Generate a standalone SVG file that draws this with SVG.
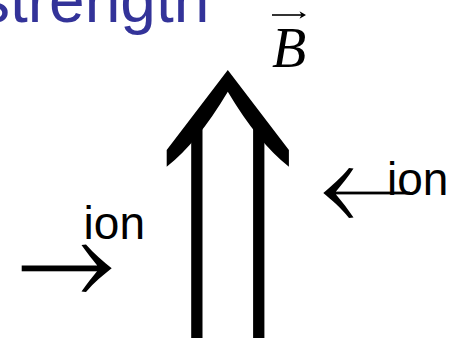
<svg xmlns="http://www.w3.org/2000/svg" width="458" height="338" viewBox="0 0 458 338">
<style>
.title{font-family:"Liberation Sans",Arial,sans-serif;font-size:64px;fill:#333399}
.lbl{font-family:"Liberation Sans",Arial,sans-serif;font-size:46px;fill:#000}
.vec{font-family:"Liberation Serif","Times New Roman",serif;font-style:italic;font-size:56px;fill:#000}
.ink{fill:#000}
</style>
<rect width="458" height="338" fill="#fff"/>
<g id="title"><text class="title" x="-22" y="22">strength</text></g>
<g id="label-B">
<text class="vec" x="272" y="67">B</text>
<line x1="272" y1="15" x2="302" y2="15" stroke="#000" stroke-width="1.6"/>
<polygon class="ink" points="306,15 299.5,11.3 301.5,15 299.5,18.7"/>
</g>
<g id="field-arrow">
<path class="ink" d="M166.7,150 L227.8,70 L288.9,150 L288.9,166.7 Q258.1,142.6 227.8,91.7 Q197.5,142.6 166.7,166.7 Z"/>
<rect class="ink" x="191.2" y="120" width="11.3" height="218"/>
<rect class="ink" x="253.1" y="120" width="11.3" height="218"/>
</g>
<g id="ion-left">
<text class="lbl" x="83.6" y="238.5">ion</text>
<rect class="ink" x="21.7" y="265.5" width="78.5" height="5.8"/>
<path class="ink" d="M111.7,268.3 C104,262 94,254 86,244.5 L81.5,245 C87,253 93,260 97,265.3 L97,271.3 C93,276.5 87,283.5 81.5,291.5 L86,292 C94,282.5 104,274.5 111.7,268.3 Z"/>
</g>
<g id="ion-right">
<text class="lbl" x="387" y="195">ion</text>
<rect class="ink" x="334" y="191.6" width="76" height="2.8"/>
<path class="ink" d="M323.3,193.1 C331,186.6 341,178.1 349,168.1 L353.5,168.6 C348,177.1 342,184.5 336,191.6 L336,194.4 C342,201.5 348,209 353.5,217.6 L349,218.1 C341,207.8 331,199.5 323.3,193.1 Z"/>
</g>
</svg>
